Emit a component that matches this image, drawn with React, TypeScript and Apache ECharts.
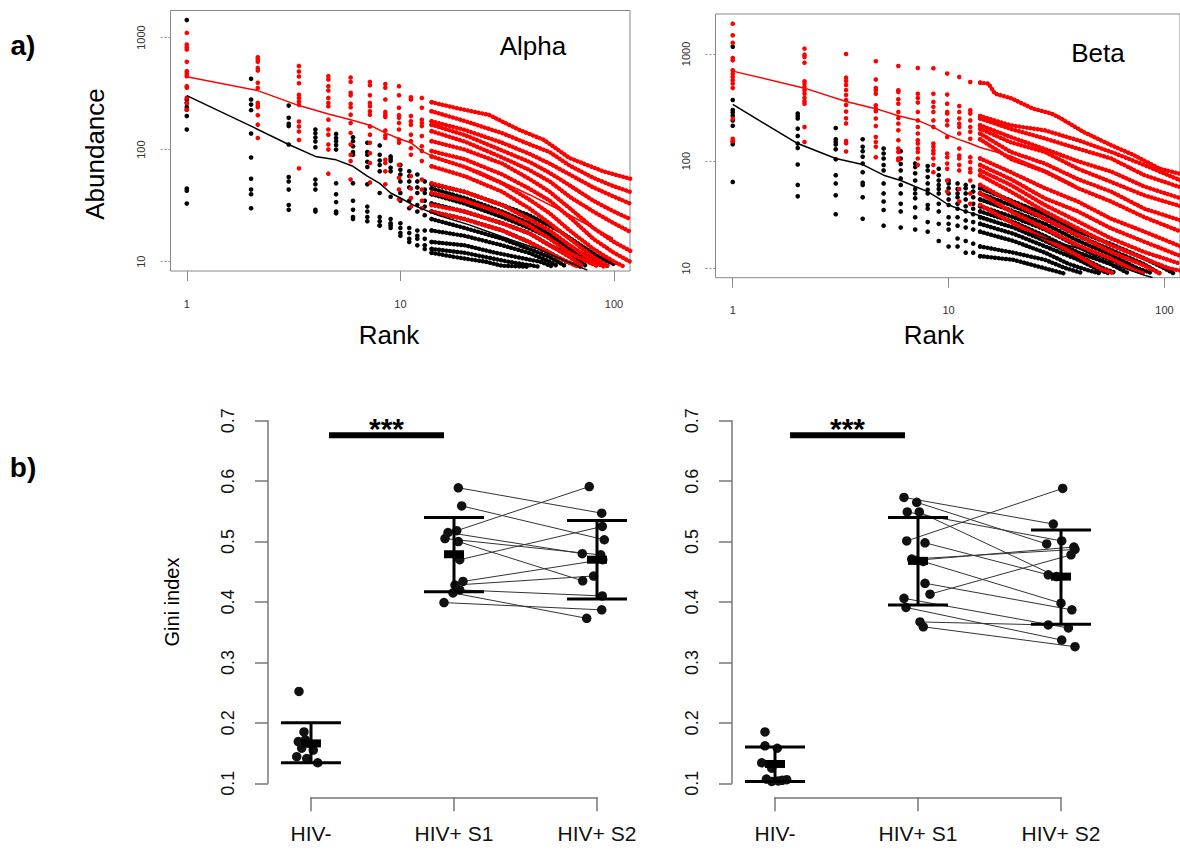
import React, { useEffect, useRef } from "react";
import * as echarts from "echarts";

const FONT = "'Liberation Sans', Arial, Helvetica, sans-serif";
const RED = "#ff0000";
const BLACK = "#000000";

// ---------------- (a) rank–abundance data ----------------
// x positions of the dot columns (black = HIV-, red = HIV+)
const BLACK_RANKS = [1, 2, 3, 4, 5, 6, 7, 8, 9, 10, 11, 12, 13, 14];
const RED_RANKS = [1, 2.15, 3.35, 4.6, 5.85, 7.2, 8.5, 9.85, 11.2, 12.6, 14];
const X_TICKS = [1, 10, 100];
const Y_TICKS = [10, 100, 1000];

// Alpha – abundance per column (one value per sample)
const alphaBlackCols = [
  [1430, 280, 261, 240, 227, 199, 151, 45, 43, 33],
  [428, 280, 252, 225, 139, 85, 55, 44, 40, 30],
  [247, 192, 170, 162, 111, 57, 52, 44, 32, 29],
  [151, 140, 128, 118, 105, 54, 49, 44, 29, 28],
  [138, 127, 119, 110, 100, 50, 40, 34, 28, 27],
  [129, 119, 107, 95, 90, 50, 35, 29, 25, 24],
  [115, 95, 90, 78, 70, 49, 31, 28, 25, 23],
  [109, 90, 80, 73, 64, 41, 25, 23, 21, 21],
  [87, 83, 79, 69, 64, 38, 24, 22, 21, 20],
  [73, 66, 60, 52, 41, 35, 22, 20, 18, 17],
  [64, 58, 52, 46, 35, 30, 20, 18, 16, 15],
  [60, 52, 46, 41, 32, 28, 19, 17, 16, 14],
  [52, 44, 41, 35, 31, 26, 19, 16, 14, 13],
  [49, 45, 40, 33, 28, 24, 19, 15, 13, 12],
];
const alphaRedCols = [
  [1100, 866, 820, 782, 607, 501, 474, 452, 368, 356, 290, 261, 227],
  [668, 637, 607, 536, 507, 394, 355, 261, 249, 239, 203, 167, 127],
  [558, 497, 449, 391, 308, 288, 268, 251, 178, 161, 145, 122, 68],
  [452, 422, 368, 336, 289, 261, 244, 185, 151, 136, 111, 100, 61],
  [440, 402, 321, 305, 256, 239, 205, 173, 141, 111, 90, 79, 54],
  [402, 376, 305, 261, 244, 220, 205, 161, 136, 115, 93, 76, 51],
  [385, 356, 280, 217, 205, 195, 148, 134, 127, 81, 76, 64, 49],
  [368, 305, 236, 203, 192, 173, 151, 123, 115, 73, 56, 44, 36],
  [293, 280, 199, 179, 167, 136, 119, 103, 90, 58, 45, 37, 31],
  [289, 236, 185, 173, 162, 132, 107, 97, 79, 54, 44, 35, 30],
  [265, 220, 179, 167, 146, 119, 97, 87, 71, 50, 41, 32, 28],
];
// dense tails (rank, abundance) per sample
const alphaBlackTails = [
  [[14, 49], [20, 42], [30, 32], [40, 26], [55, 19], [70, 14], [85, 11], [100, 9.5]],
  [[14, 45], [20, 37], [30, 28], [40, 22], [55, 16], [70, 12], [85, 10], [95, 9]],
  [[14, 40], [20, 33], [30, 25], [40, 20], [55, 15], [70, 11], [80, 9.5]],
  [[14, 33], [20, 28], [30, 22], [40, 18], [50, 14], [65, 11], [75, 9]],
  [[14, 28], [20, 24], [30, 19], [40, 15], [50, 12], [60, 10], [70, 9]],
  [[14, 24], [20, 20], [30, 16], [40, 13], [50, 11], [60, 9]],
  [[14, 19], [20, 17], [30, 14], [40, 12], [50, 10], [55, 9]],
  [[14, 15], [20, 14], [28, 12], [35, 11], [45, 10], [52, 9]],
  [[14, 13], [20, 12], [25, 11], [32, 10], [45, 9]],
  [[14, 12], [18, 11], [25, 10], [30, 9.2], [40, 9]],
];
const alphaRedTails = [
  [[14, 265], [18.4, 234], [26, 204], [30, 178], [36, 150], [47, 122], [62, 84], [89, 64], [119, 55]],
  [[14, 220], [20, 180], [30, 140], [40, 112], [50, 95], [62, 72], [80, 56], [100, 47], [119, 42]],
  [[14, 179], [20, 150], [30, 115], [40, 92], [50, 75], [62, 60], [80, 46], [100, 38], [119, 33]],
  [[14, 167], [20, 135], [30, 98], [40, 78], [50, 62], [62, 48], [80, 35], [100, 28], [119, 24]],
  [[14, 146], [20, 118], [30, 85], [40, 66], [50, 52], [62, 38], [80, 28], [100, 22], [119, 18.5]],
  [[14, 119], [20, 100], [30, 75], [40, 55], [50, 42], [62, 30], [80, 20], [100, 15], [119, 12.5]],
  [[14, 97], [20, 82], [30, 60], [40, 45], [50, 35], [62, 25], [80, 16], [100, 12], [119, 10]],
  [[14, 87], [20, 70], [30, 50], [40, 36], [50, 27], [62, 19], [80, 13], [100, 10], [112, 9]],
  [[14, 71], [20, 58], [30, 42], [40, 30], [50, 22], [62, 16], [80, 11], [95, 9]],
  [[14, 50], [20, 42], [30, 32], [40, 24], [50, 19], [62, 14], [80, 10], [90, 9]],
  [[14, 41], [20, 35], [30, 27], [40, 21], [50, 16], [62, 12], [75, 10], [85, 9]],
  [[14, 32], [20, 28], [30, 22], [40, 18], [50, 14], [62, 11], [72, 9]],
  [[14, 28], [20, 24], [30, 19], [40, 15], [50, 12], [60, 10], [68, 9]],
];
const alphaRedMean = [[1, 446], [2.15, 336], [3.35, 247], [4.6, 208], [5.85, 185], [7.2, 165], [8.5, 141], [9.85, 125], [11.2, 115], [12.6, 97], [14.2, 87], [23.6, 63.6], [40.4, 39.4], [57.9, 27.9], [99, 16.1]];
const alphaBlackMean = [[1, 303], [2, 162], [3, 111], [4, 87], [5, 81], [6, 71], [7, 58], [8, 50], [9, 41], [10, 37], [11.5, 32], [13, 29], [15, 26], [21, 21.3], [30, 16.7], [43, 13.2], [75, 8.4]];

// Beta
const betaBlackCols = [
  [1170, 372, 300, 285, 265, 240, 214, 152, 144, 64],
  [278, 264, 250, 201, 172, 146, 133, 93, 60, 47],
  [204, 160, 151, 143, 129, 104, 74, 62, 48, 32],
  [160, 136, 124, 110, 95, 79, 63, 60, 46, 29],
  [131, 118, 106, 92, 82, 62, 50, 42, 35, 25],
  [124, 106, 94, 82, 69, 60, 50, 40, 34, 24],
  [95, 88, 77, 66, 55, 50, 45, 37, 30, 23],
  [90, 82, 71, 62, 54, 50, 39, 36, 27, 22],
  [85, 74, 66, 60, 55, 50, 40, 34, 26, 18],
  [66, 62, 56, 50, 44, 39, 30, 26, 23, 16],
  [62, 55, 50, 46, 40, 36, 30, 25, 19, 16],
  [60, 56, 50, 44, 38, 34, 28, 24, 18, 14],
  [58, 52, 46, 40, 36, 32, 27, 23, 17, 14],
  [56, 50, 44, 38, 34, 30, 26, 22, 16, 13],
];
const betaRedCols = [
  [1918, 1494, 1274, 918, 873, 704, 655, 610, 568, 529, 482, 249, 162, 153],
  [1122, 986, 938, 830, 556, 529, 492, 458, 426, 389, 362, 344, 208, 151],
  [1000, 601, 560, 514, 461, 414, 372, 334, 290, 251, 225, 154, 147, 123],
  [855, 577, 482, 458, 426, 332, 309, 292, 250, 213, 168, 151, 136, 109],
  [773, 458, 442, 378, 344, 288, 253, 224, 194, 157, 131, 122, 106, 102],
  [741, 426, 389, 352, 288, 240, 208, 181, 157, 146, 131, 122, 106, 92],
  [735, 426, 357, 321, 288, 240, 208, 146, 136, 126, 118, 106, 92, 79],
  [656, 418, 344, 288, 278, 240, 216, 168, 118, 109, 95, 85, 66, 52],
  [611, 327, 288, 250, 224, 208, 181, 131, 113, 106, 92, 82, 55, 42],
  [548, 298, 278, 240, 208, 188, 162, 109, 98, 85, 79, 66, 50, 40],
  [540, 264, 250, 216, 201, 181, 160, 106, 92, 82, 74, 60, 50, 39],
];
const betaBlackTails = [
  [[14, 56], [20, 42], [28, 32], [40, 22], [56, 17], [80, 12.5], [100, 10], [110, 9]],
  [[14, 50], [20, 38], [28, 29], [40, 20], [56, 15], [80, 11], [95, 9]],
  [[14, 44], [20, 34], [28, 26], [40, 18], [56, 13.5], [75, 10], [88, 9]],
  [[14, 38], [20, 30], [28, 23], [40, 16], [56, 12], [70, 10], [80, 9]],
  [[14, 34], [20, 27], [28, 20], [40, 14], [56, 11], [68, 9]],
  [[14, 30], [20, 24], [28, 18], [40, 13], [52, 10], [60, 9]],
  [[14, 26], [20, 21], [28, 16], [40, 12], [48, 10], [55, 9]],
  [[14, 22], [20, 18], [28, 14], [36, 11], [45, 9.5], [50, 9]],
  [[14, 16], [20, 14], [28, 12], [35, 10], [42, 9]],
  [[14, 13], [20, 12], [28, 10], [34, 9]],
];
const betaRedTails = [
  [[14, 540], [15.3, 529], [16.4, 426], [19.4, 388], [24.6, 309], [30, 278], [33.2, 250], [42, 188], [56.6, 141], [72, 114], [95, 85], [119, 76]],
  [[14, 264], [19.4, 216], [27.9, 194], [39.7, 157], [56.6, 122], [80.7, 92], [119, 66]],
  [[14, 250], [19.4, 200], [27.9, 163], [39.7, 131], [56.6, 106], [80.7, 74], [119, 57]],
  [[14, 216], [19.4, 168], [27.9, 130], [39.7, 100], [56.6, 80], [80.7, 58], [119, 45]],
  [[14, 201], [19.4, 150], [27.9, 122], [39.7, 85], [56.6, 64], [80.7, 48], [119, 38]],
  [[14, 181], [19.4, 122], [27.9, 95], [39.7, 68], [56.6, 52], [80.7, 36], [119, 28]],
  [[14, 160], [19.4, 105], [27.9, 80], [39.7, 56], [56.6, 42], [80.7, 30], [119, 22]],
  [[14, 106], [19.4, 79], [27.9, 56], [39.7, 42], [56.6, 29], [80.7, 22], [119, 16]],
  [[14, 92], [19.4, 68], [27.9, 45], [39.7, 34], [56.6, 23.6], [80.7, 17.7], [119, 13]],
  [[14, 82], [19.4, 60], [27.9, 39], [39.7, 27.4], [56.6, 19], [80.7, 14.2], [119, 11]],
  [[14, 74], [19.4, 52], [27.9, 34], [39.7, 23.6], [56.6, 16.4], [80.7, 12.3], [105, 10], [119, 9.5]],
  [[14, 60], [19.4, 42], [27.9, 29], [39.7, 20.4], [56.6, 14.2], [80.7, 10.6], [95, 9]],
  [[14, 50], [19.4, 34], [27.9, 23.6], [39.7, 16.4], [56.6, 12.3], [72, 9.7], [80, 9]],
  [[14, 39], [19.4, 27], [27.9, 19], [39.7, 13.2], [50, 10], [58, 9]],
];
const betaRedMean = [[1, 692], [2.15, 480], [3.35, 360], [4.6, 309], [5.85, 265], [7.2, 240], [8.5, 208], [9.85, 176], [11.2, 159], [12.6, 146], [14, 134], [19.5, 111], [29, 80], [38.4, 60]];
const betaBlackMean = [[1, 338], [2, 146], [3, 106], [4, 93], [5, 74], [6, 66], [7, 58], [8, 52], [9, 45], [10, 39], [12, 34], [14, 31], [19.4, 24.3], [28, 19], [40, 15.3], [57, 11], [81, 8.6], [88, 8.2]];

// ---------------- (b) Gini index data ----------------
const GINI_CATEGORIES = ["HIV-", "HIV+ S1", "HIV+ S2"];
// left panel
const leftNegX = [0.916, 0.951, 0.96, 0.911, 0.988, 0.935, 1.016, 0.9, 0.97, 1.047];
const leftNegY = [0.252, 0.185, 0.172, 0.169, 0.166, 0.158, 0.155, 0.144, 0.141, 0.134];
const leftS1X = [2.03, 2.054, 2.019, 1.958, 1.937, 2.03, 2.04, 2.063, 2.007, 2.04, 1.993, 1.93];
const leftS1Y = [0.589, 0.559, 0.518, 0.515, 0.505, 0.5, 0.47, 0.434, 0.428, 0.42, 0.415, 0.399];
const leftS2X = [3.033, 3.051, 2.946, 2.897, 3.026, 2.9, 3.037, 3.04, 2.976, 3.037, 2.928, 3.033];
const leftS2Y = [0.547, 0.503, 0.591, 0.48, 0.478, 0.435, 0.525, 0.47, 0.443, 0.41, 0.373, 0.387];
// [category, lower, upper, mean]
const leftStats = [[1, 0.134, 0.2, 0.166], [2, 0.417, 0.54, 0.479], [3, 0.405, 0.535, 0.47]];
const leftSig = [[1.126, 1.93, 0.676]];
// right panel
const rightNegX = [0.93, 0.93, 1.016, 0.907, 0.977, 0.977, 1.023, 1.082, 0.94, 1.05];
const rightNegY = [0.185, 0.162, 0.158, 0.134, 0.125, 0.103, 0.104, 0.106, 0.107, 0.105];
const rightS1X = [1.902, 1.991, 1.925, 2.009, 1.921, 2.049, 1.956, 1.99, 2.037, 2.049, 2.084, 1.902, 1.916, 2.014, 2.037];
const rightS1Y = [0.573, 0.565, 0.549, 0.549, 0.501, 0.498, 0.471, 0.469, 0.467, 0.431, 0.413, 0.406, 0.391, 0.367, 0.359];
const rightS2X = [2.946, 2.9, 3.005, 2.97, 3.012, 2.911, 3.098, 3.09, 3.0, 3.076, 3.07, 3.052, 3.005, 2.911, 3.098];
const rightS2Y = [0.529, 0.496, 0.501, 0.442, 0.588, 0.445, 0.487, 0.491, 0.398, 0.387, 0.478, 0.357, 0.337, 0.362, 0.326];
const rightStats = [[1, 0.103, 0.16, 0.132], [2, 0.395, 0.54, 0.468], [3, 0.363, 0.519, 0.442]];
const rightSig = [[1.105, 1.909, 0.676]];

// ---------------- helpers ----------------
function dots(cols: number[][], xs: number[]) {
  const out: number[][] = [];
  cols.forEach((col, i) => col.forEach((v) => out.push([xs[i], v])));
  return out;
}

function scatterDots(gi: number, data: number[][], color: string) {
  return {
    type: "scatter", xAxisIndex: gi, yAxisIndex: gi, data, symbol: "circle", symbolSize: 4.6,
    itemStyle: { color, opacity: 1 }, clip: true, silent: true, z: 2,
  };
}

// beaded (dotted) thick line for dense tails, solid thin line for means
function tailLine(gi: number, data: number[][], color: string) {
  return {
    type: "line", xAxisIndex: gi, yAxisIndex: gi, data, symbol: "none", showSymbol: false,
    lineStyle: { color, width: 4.4, cap: "round", join: "round", type: [0.1, 3.6] }, clip: true, silent: true, z: 2,
  };
}
function meanLine(gi: number, data: number[][], color: string) {
  return {
    type: "line", xAxisIndex: gi, yAxisIndex: gi, data, symbol: "none", showSymbol: false,
    lineStyle: { color, width: 1.5 }, clip: true, silent: true, z: 5,
  };
}

function topSeries(gi: number, bCols: number[][], rCols: number[][], bTails: number[][][], rTails: number[][][], bMean: number[][], rMean: number[][]) {
  const s: any[] = [];
  s.push(scatterDots(gi, dots(bCols, BLACK_RANKS), BLACK));
  bTails.forEach((t) => s.push(tailLine(gi, t, BLACK)));
  s.push(scatterDots(gi, dots(rCols, RED_RANKS), RED));
  rTails.forEach((t) => s.push(tailLine(gi, t, RED)));
  s.push(meanLine(gi, bMean, BLACK));
  s.push(meanLine(gi, rMean, RED));
  return s;
}

function topX(gi: number, min: number, max: number) {
  return {
    gridIndex: gi, type: "log", logBase: 10, min, max,
    axisLine: { show: false },
    axisTick: { show: true, inside: false, length: 10, customValues: X_TICKS, lineStyle: { color: "#8a8a8a", width: 1 } },
    axisLabel: { show: true, customValues: X_TICKS, fontSize: 11, color: "#333", margin: 27, fontFamily: FONT, formatter: (v: number) => String(Math.round(v)) },
    splitLine: { show: false },
  };
}

function topY(gi: number, min: number, max: number) {
  return {
    gridIndex: gi, type: "log", logBase: 10, min, max,
    axisLine: { show: false },
    axisTick: { show: true, inside: false, length: 10, customValues: Y_TICKS, lineStyle: { color: "#8a8a8a", width: 1, type: [2, 2] } },
    axisLabel: { show: true, customValues: Y_TICKS, rotate: 90, fontSize: 11, color: "#333", margin: 24, fontFamily: FONT, formatter: (v: number) => String(Math.round(v)) },
    splitLine: { show: false },
  };
}

function botX(gi: number) {
  return {
    gridIndex: gi, type: "value", min: 1, max: 3, interval: 1, offset: 14,
    axisLine: { show: true, lineStyle: { color: "#777", width: 1.5 } },
    axisTick: { show: true, inside: false, length: 14, lineStyle: { color: "#777", width: 1.5 } },
    axisLabel: {
      show: true, fontSize: 21, color: "#111", margin: 26, fontFamily: FONT,
      showMinLabel: true, showMaxLabel: true,
      formatter: (v: number) => GINI_CATEGORIES[Math.round(v) - 1] ?? "",
    },
    splitLine: { show: false },
  };
}

function botY(gi: number) {
  return {
    gridIndex: gi, type: "value", min: 0.1, max: 0.7, interval: 0.1, offset: 43,
    axisLine: { show: true, lineStyle: { color: "#777", width: 1.5 } },
    axisTick: { show: true, inside: false, length: 13, lineStyle: { color: "#777", width: 1.5 } },
    axisLabel: {
      show: true, rotate: 90, fontSize: 18, color: "#111", margin: 31, fontFamily: FONT,
      showMinLabel: true, showMaxLabel: true,
      formatter: (v: number) => v.toFixed(1),
    },
    splitLine: { show: false },
  };
}

function zipXY(xs: number[], ys: number[]) {
  return xs.map((x, i) => [x, ys[i]]);
}

function botSeries(gi: number, negX: number[], negY: number[], s1X: number[], s1Y: number[], s2X: number[], s2Y: number[], stats: number[][], sig: number[][]) {
  const pairs = s1X.map((x, i) => [x, s1Y[i], s2X[i], s2Y[i]]);
  const pts = [...zipXY(negX, negY), ...zipXY(s1X, s1Y), ...zipXY(s2X, s2Y)];
  return [
    {
      type: "custom", xAxisIndex: gi, yAxisIndex: gi, clip: false, silent: true, z: 2,
      data: pairs,
      renderItem: (_p: any, api: any) => {
        const a = api.coord([api.value(0), api.value(1)]);
        const b = api.coord([api.value(2), api.value(3)]);
        return { type: "line", shape: { x1: a[0], y1: a[1], x2: b[0], y2: b[1] }, style: { stroke: "#333", lineWidth: 1 } };
      },
    },
    {
      type: "scatter", xAxisIndex: gi, yAxisIndex: gi, data: pts, symbol: "circle", symbolSize: 9.5,
      itemStyle: { color: "#111", opacity: 1 }, clip: false, silent: true, z: 3,
    },
    {
      type: "custom", xAxisIndex: gi, yAxisIndex: gi, clip: false, silent: true, z: 4,
      data: stats,
      renderItem: (_p: any, api: any) => {
        const c = api.value(0);
        const lo = api.coord([c, api.value(1)]);
        const hi = api.coord([c, api.value(2)]);
        const m = api.coord([c, api.value(3)]);
        const st = { stroke: "#000", lineWidth: 3 };
        return {
          type: "group",
          children: [
            { type: "line", shape: { x1: lo[0], y1: lo[1], x2: hi[0], y2: hi[1] }, style: st },
            { type: "line", shape: { x1: lo[0] - 30, y1: lo[1], x2: lo[0] + 30, y2: lo[1] }, style: st },
            { type: "line", shape: { x1: hi[0] - 30, y1: hi[1], x2: hi[0] + 30, y2: hi[1] }, style: st },
            { type: "rect", shape: { x: m[0] - 10, y: m[1] - 4, width: 20, height: 8 }, style: { fill: "#000" } },
          ],
        };
      },
    },
    {
      type: "custom", xAxisIndex: gi, yAxisIndex: gi, clip: false, silent: true, z: 4,
      data: sig,
      renderItem: (_p: any, api: any) => {
        const a = api.coord([api.value(0), api.value(2)]);
        const b = api.coord([api.value(1), api.value(2)]);
        return {
          type: "group",
          children: [
            { type: "line", shape: { x1: a[0], y1: a[1], x2: b[0], y2: b[1] }, style: { stroke: "#000", lineWidth: 6 } },
            {
              type: "text", x: (a[0] + b[0]) / 2, y: a[1] - 7,
              style: {
                text: "***", fontSize: 30, fontWeight: "bold", fontFamily: FONT, fill: "#000",
                align: "center", verticalAlign: "middle", textAlign: "center", textVerticalAlign: "middle",
              },
            },
          ],
        };
      },
    },
  ];
}

function label(text: string, x: number, y: number, size: number, opts: any = {}) {
  return {
    type: "text", x, y, rotation: opts.rotation ?? 0, silent: true,
    style: {
      text, fontSize: size, fontFamily: FONT, fontWeight: opts.bold ? "bold" : "normal", fill: "#000",
      align: "center", verticalAlign: "middle", textAlign: "center", textVerticalAlign: "middle",
    },
  };
}

function buildOption() {
  return {
    animation: false,
    backgroundColor: "#ffffff",
    textStyle: { fontFamily: FONT },
    grid: [
      { left: 170.5, top: 10.5, width: 459.5, height: 260.5, show: true, borderColor: "#888", borderWidth: 1, backgroundColor: "transparent" },
      { left: 715.5, top: 14, width: 467, height: 263.7, show: true, borderColor: "#888", borderWidth: 1, backgroundColor: "transparent" },
      { left: 311, top: 420.7, width: 286, height: 362.6 },
      { left: 775, top: 420.7, width: 286, height: 362.6 },
    ],
    xAxis: [topX(0, 0.839, 118.8), topX(1, 0.832, 118), botX(2), botX(3)],
    yAxis: [topY(0, 8.26, 1742), topY(1, 8.18, 2361), botY(2), botY(3)],
    series: [
      ...topSeries(0, alphaBlackCols, alphaRedCols, alphaBlackTails, alphaRedTails, alphaBlackMean, alphaRedMean),
      ...topSeries(1, betaBlackCols, betaRedCols, betaBlackTails, betaRedTails, betaBlackMean, betaRedMean),
      ...botSeries(2, leftNegX, leftNegY, leftS1X, leftS1Y, leftS2X, leftS2Y, leftStats, leftSig),
      ...botSeries(3, rightNegX, rightNegY, rightS1X, rightS1Y, rightS2X, rightS2Y, rightStats, rightSig),
    ],
    graphic: [
      label("a)", 23, 45, 28, { bold: true }),
      label("b)", 23, 467, 28, { bold: true }),
      label("Alpha", 533, 46, 26),
      label("Beta", 1098, 53, 26),
      label("Abundance", 95, 154, 26, { rotation: Math.PI / 2 }),
      label("Rank", 389, 335, 26),
      label("Rank", 934, 335, 26),
      label("Gini index", 172, 602, 20, { rotation: Math.PI / 2 }),
    ],
  };
}

export default function App() {
  const ref = useRef<HTMLDivElement>(null);
  useEffect(() => {
    if (!ref.current) return;
    const chart = echarts.init(ref.current, null, { renderer: "svg" });
    chart.setOption(buildOption() as any);
    return () => chart.dispose();
  }, []);
  return (
    <div
      ref={ref}
      style={{ position: "fixed", left: 0, top: 0, width: 1180, height: 852, background: "#fff" }}
    />
  );
}
